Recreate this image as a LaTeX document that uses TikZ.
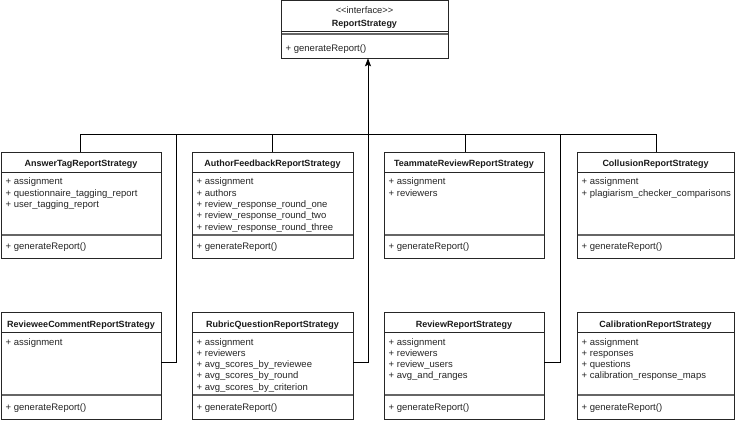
\documentclass[tikz,border=0pt]{standalone}
\usepackage{fontspec}
\setmainfont{Liberation Sans}
\usetikzlibrary{arrows.meta,calc}
\tikzset{
  cls/.style={draw=black!85, line width=0.9pt, rectangle, inner sep=0pt, outer sep=0pt, fill=white},
  sepline/.style={draw=black!85, line width=0.8pt},
  msep/.style={draw=black!60, line width=1.6pt},
  conn/.style={draw=black, line width=0.8pt},
  txt/.style={inner sep=0pt, anchor=base west, text=black!85, font=\fontsize{9.5}{11.3}\selectfont},
  ttl/.style={inner sep=0pt, anchor=base, text=black!90, font=\fontsize{9}{11.3}\selectfont\bfseries},
  ster/.style={inner sep=0pt, anchor=base, text=black!85, font=\fontsize{9.3}{11.3}\selectfont},
}
\newcommand\attrlist[1]{\begin{tabular}[t]{@{}l@{}}#1\end{tabular}}
% #1 name, #2 left, #3 top, #4 right, #5 bottom, #6 sep1, #7 sep2, #8 title, #9 attributes
\newcommand\umlcls[9]{%
  \node[cls, anchor=north west, minimum width={(#4-#2)*1pt}, minimum height={(#5-#3)*1pt}] (#1) at (#2,#3) {};
  \draw[sepline] (#2,#6) -- (#4,#6);
  \draw[msep] (#2+0.5,#7) -- (#4-0.5,#7);
  \node[ttl] (#1-title) at ({(#2+#4)/2},#3+15) {#8};
  \node[txt] (#1-attr) at (#2+4.5,#6+13) {\attrlist{#9}};
  \node[txt] (#1-op) at (#2+4.5,#7+15) {+ generateReport()};
}
\begin{document}
\begin{tikzpicture}[x=1pt,y=-1pt]
\useasboundingbox[fill=white] (0,0) rectangle (737,422);

% interface
\node[cls, anchor=north west, minimum width=167pt, minimum height=57.5pt] (rs) at (281,0.8) {};
\draw[sepline] (281,31) -- (448,31);
\draw[msep, line width=1.1pt] (281.5,34) -- (447.5,34);
\node[ster] (rs-st) at (364.5,14) {{<}{<}interface{>}{>}};
\node[ttl] (rs-title) at (364.5,26.5) {ReportStrategy};
\node[txt] (rs-op) at (285.5,52) {+ generateReport()};

% row 1
\umlcls{ans}{1}{152}{161}{258}{172}{235}{AnswerTagReportStrategy}{+ assignment\\+ questionnaire\_tagging\_report\\+ user\_tagging\_report}
\umlcls{auth}{192}{152}{353}{258}{172}{235}{AuthorFeedbackReportStrategy}{+ assignment\\+ authors\\+ review\_response\_round\_one\\+ review\_response\_round\_two\\+ review\_response\_round\_three}
\umlcls{team}{384}{152}{544}{258}{172}{235}{TeammateReviewReportStrategy}{+ assignment\\+ reviewers}
\umlcls{coll}{577}{152}{734}{258}{172}{235}{CollusionReportStrategy}{+ assignment\\+ plagiarism\_checker\_comparisons}

% row 2
\umlcls{revc}{1}{312}{161}{419}{332}{395}{RevieweeCommentReportStrategy}{+ assignment}
\umlcls{rubq}{192}{312}{353}{419}{332}{395}{RubricQuestionReportStrategy}{+ assignment\\+ reviewers\\+ avg\_scores\_by\_reviewee\\+ avg\_scores\_by\_round\\+ avg\_scores\_by\_criterion}
\umlcls{revr}{384}{312}{544}{419}{332}{395}{ReviewReportStrategy}{+ assignment\\+ reviewers\\+ review\_users\\+ avg\_and\_ranges}
\umlcls{cali}{577}{312}{734}{419}{332}{395}{CalibrationReportStrategy}{+ assignment\\+ responses\\+ questions\\+ calibration\_response\_maps}

% connectors
\coordinate (hub) at (368,134);
\coordinate (c1) at (176,134);
\coordinate (c3) at (560,134);
\coordinate (revcp) at (161,362);
\coordinate (rubqp) at (353,362);
\coordinate (revrp) at (544,362);
\draw[conn] (ans.north -| 80,0) |- (hub);
\draw[conn] (auth.north -| 272,0) |- (hub);
\draw[conn] (team.north -| 465,0) |- (hub);
\draw[conn] (coll.north -| 656,0) |- (hub);
\draw[conn] (revcp) -| (c1) -- (hub);
\draw[conn] (rubqp) -| (hub);
\draw[conn] (revrp) -| (c3) -- (hub);
\draw[conn, -{Stealth[width=6pt,length=8pt,inset=1.5pt]}] (hub) -- (hub |- rs.south);
\end{tikzpicture}
\end{document}
